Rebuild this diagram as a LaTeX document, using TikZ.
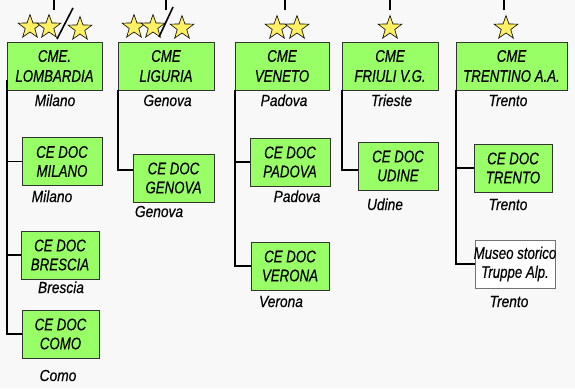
\documentclass[tikz,border=0pt]{standalone}
\usepackage{fontspec}
\setmainfont[FakeStretch=0.79, FakeBold=0.4]{Liberation Sans}
\newfontfamily\townfont[FakeStretch=0.86, FakeBold=0.4]{Liberation Sans}
\usetikzlibrary{shapes.geometric}
\definecolor{boxgreen}{RGB}{153,255,102}
\definecolor{staryellow}{RGB}{255,240,100}
\definecolor{pagegray}{RGB}{248,248,248}
\begin{document}
\begin{tikzpicture}[x=1pt, y=-1pt,
        cme/.style={rectangle, draw=black!80, fill=boxgreen, minimum width=96pt, minimum height=48pt, inner sep=1pt, align=center, font=\fontsize{16.8}{20}\selectfont\itshape},
        cedoc/.style={cme, minimum width=80pt, font=\fontsize{16.8}{19}\selectfont\itshape},
        museo/.style={cedoc, fill=white, draw=black!55},
        town/.style={anchor=base, font=\townfont\fontsize{16}{18}\selectfont\itshape},
        starmark/.style={star, star points=5, star point ratio=2.5, minimum size=25pt, inner sep=0pt, draw=black, fill=staryellow, line width=0.6pt},
        spine/.style={line width=1.6pt}
    ]
        \fill[pagegray] (0,0) rectangle (575,388);
        \useasboundingbox (0,0) rectangle (575,388);

        \node[cme, minimum width=95pt] (lomb) at (54.5,66) {CME.\\LOMBARDIA};
        \node[cme] (lig) at (166,66) {CME\\LIGURIA};
        \node[cme, minimum width=94pt] (ven) at (282,66) {CME\\VENETO};
        \node[cme] (friuli) at (390,66) {CME\\FRIULI V.G.};
        \node[cme, minimum width=111pt] (trent) at (511.5,66) {CME\\TRENTINO A.A.};

        \node[starmark] (s1) at (30,27) {};
        \node[starmark] (s2) at (49,27) {};
        \node[starmark] (s3) at (80,29) {};
        \node[starmark] (s4) at (134,27) {};
        \node[starmark] (s5) at (153,27) {};
        \node[starmark] (s6) at (182,28) {};
        \node[starmark] (s7) at (277,28) {};
        \node[starmark] (s8) at (297,28) {};
        \node[starmark] (s9) at (390,28) {};
        \node[starmark] (s10) at (506,28) {};

        \draw[spine] (54,0) -- (54,10);
        \draw[spine] (73,8) -- (57,39);
        \draw[spine] (166,0) -- (166,10);
        \draw[spine] (173,7) -- (159,37);
        \draw[spine] (285,0) -- (285,10);
        \draw[spine] (390,0) -- (390,10);
        \draw[spine] (504,0) -- (504,10);

        \node[town] at (55,106) {Milano};
        \node[town] at (167.5,106) {Genova};
        \node[town] at (284,106) {Padova};
        \node[town] at (391.5,106) {Trieste};
        \node[town] at (508,106) {Trento};

        \node[cedoc] (milano) at (62,161.5) {CE DOC\\MILANO};
        \node[cedoc, minimum width=78pt] (brescia) at (60,255) {CE DOC\\BRESCIA};
        \node[cedoc, minimum width=77pt] (como) at (60.5,334) {CE DOC\\COMO};
        \node[cedoc, minimum width=81pt] (genova) at (173.5,178) {CE DOC\\GENOVA};
        \node[cedoc] (padova) at (290,162) {CE DOC\\PADOVA};
        \node[cedoc, minimum width=78pt] (verona) at (290,266) {CE DOC\\VERONA};
        \node[cedoc] (udine) at (398,166) {CE DOC\\UDINE};
        \node[cedoc, minimum width=78pt] (trento) at (513,168) {CE DOC\\TRENTO};
        \node[museo] (museo) at (515,264) {\makebox[76pt]{Museo storico}\\Truppe Alp.};

        \node[town] at (52,202) {Milano};
        \node[town] at (61,293) {Brescia};
        \node[town] at (58,381) {Como};
        \node[town] at (159,217) {Genova};
        \node[town] at (297,202) {Padova};
        \node[town] at (281,307) {Verona};
        \node[town] at (385,210) {Udine};
        \node[town] at (508,210) {Trento};
        \node[town] at (509,307) {Trento};

        \coordinate (genovain) at ([yshift=8pt]genova.west);
        \coordinate (udinein) at ([yshift=-4pt]udine.west);

        \draw[spine] ([yshift=10pt]lomb.south west) -- (lomb.south west |- como.west) -- (como.west);
        \draw[spine] (lomb.south west |- milano.west) -- (milano.west);
        \draw[spine] (lomb.south west |- brescia.west) -- (brescia.west);
        \draw[spine] (lig.south west) -- (lig.south west |- genovain) -- (genovain);
        \draw[spine] (ven.south west) -- (ven.south west |- verona.west) -- (verona.west);
        \draw[spine] (ven.south west |- padova.west) -- (padova.west);
        \draw[spine] (friuli.south west) -- (friuli.south west |- udinein) -- (udinein);
        \draw[spine] (trent.south west) -- (trent.south west |- museo.west) -- (museo.west);
        \draw[spine] (trent.south west |- trento.west) -- (trento.west);
    \end{tikzpicture}
\end{document}
